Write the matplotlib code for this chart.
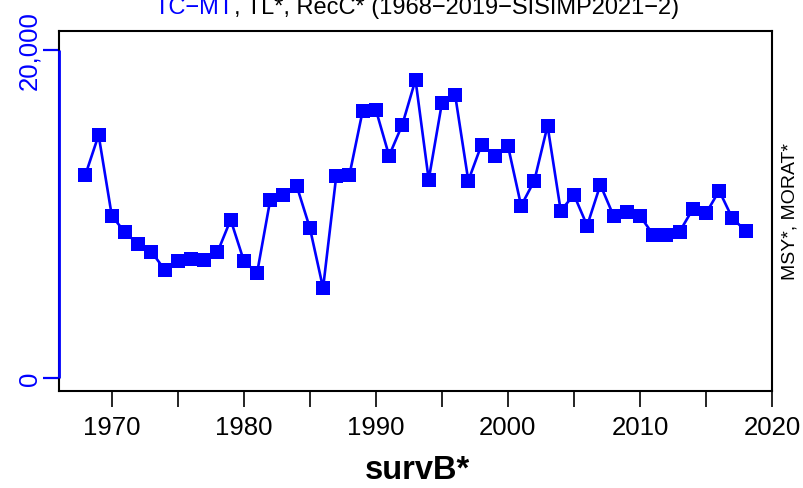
import matplotlib
matplotlib.use("Agg")
import matplotlib.pyplot as plt
from matplotlib.ticker import FuncFormatter, FixedLocator

plt.rcParams['font.family'] = ['Liberation Sans', 'DejaVu Sans']

years = list(range(1968, 2019))
values = [12380, 14800, 9880, 8870, 8160, 7690, 6600, 7140, 7250, 7200,
          7660, 9640, 7140, 6390, 10860, 11160, 11710, 9140, 5480, 12320,
          12380, 16280, 16340, 13540, 15430, 18170, 12080, 16750, 17250, 12020,
          14210, 13540, 14150, 10490, 12020, 15370, 10190, 11160, 9280, 11770,
          9880, 10130, 9880, 8730, 8730, 8910, 10290, 10030, 11410, 9730,
          8970]
y_ticks = [0, 20000]
x_major = [1970, 1980, 1990, 2000, 2010, 2020]
x_minor = [1975, 1985, 1995, 2005, 2015]

title_blue = "TC\u2212MT"
title_rest = ", TL*, RecC* (1968\u22122019\u2212SISIMP2021\u22122)"
right_label = "MSY*, MORAT*"
x_label = "survB*"

W, H = 804, 489
fig = plt.figure(figsize=(W / 100, H / 100), dpi=100)
L, R, T, B = 59, 772, 32, 392
ax = fig.add_axes([L / W, 1 - B / H, (R - L) / W, (B - T) / H])

blue = "#0000FF"
ax.plot(years, values, color=blue, lw=1.9, marker='s', markersize=9.8,
        markeredgewidth=0, zorder=3)

ax.set_xlim(1966, 2020)
ax.set_ylim(-792, 21140)

for s in ax.spines.values():
    s.set_linewidth(1.5)
    s.set_color('black')

# blue left axis segment
ax.plot([0, 0], [y_ticks[0], y_ticks[-1]], color=blue, lw=2.0,
        transform=ax.get_yaxis_transform(), clip_on=False, zorder=5,
        solid_capstyle='butt')

ax.xaxis.set_major_locator(FixedLocator(x_major))
ax.xaxis.set_minor_locator(FixedLocator(x_minor))
ax.tick_params(axis='x', which='both', length=11.5, width=1.2, direction='out',
               color='black')
ax.tick_params(axis='x', which='major', labelsize=18.5, pad=6)

ax.yaxis.set_major_locator(FixedLocator(y_ticks))
ax.yaxis.set_major_formatter(FuncFormatter(lambda v, p: f"{int(v):,}"))
ax.tick_params(axis='y', which='major', length=11.5, width=1.6, color=blue,
               labelcolor=blue, labelsize=18.5, pad=1)
for lab in ax.get_yticklabels():
    lab.set_rotation(90)
    lab.set_va('center')

# right label
fig.text(790 / W, 1 - 212 / H, right_label, rotation=90, ha='center',
         va='center', fontsize=14)

# x label
fig.text(417 / W, 1 - 479 / H, x_label, ha='center', va='baseline',
         fontsize=23.5, fontweight='bold')

# title with two colours
ty = 1 - 14 / H
t1 = fig.text(0, ty, title_blue, color=blue, fontsize=17, va='baseline', ha='left')
t2 = fig.text(0, ty, title_rest, color='black', fontsize=17, va='baseline', ha='left')
fig.canvas.draw()
r = fig.canvas.get_renderer()
w1 = t1.get_window_extent(r).width
w2 = t2.get_window_extent(r).width
x0 = 417 - (w1 + w2) / 2
t1.set_x(x0 / W)
t2.set_x((x0 + w1) / W)

fig.savefig("out.png", dpi=100)
